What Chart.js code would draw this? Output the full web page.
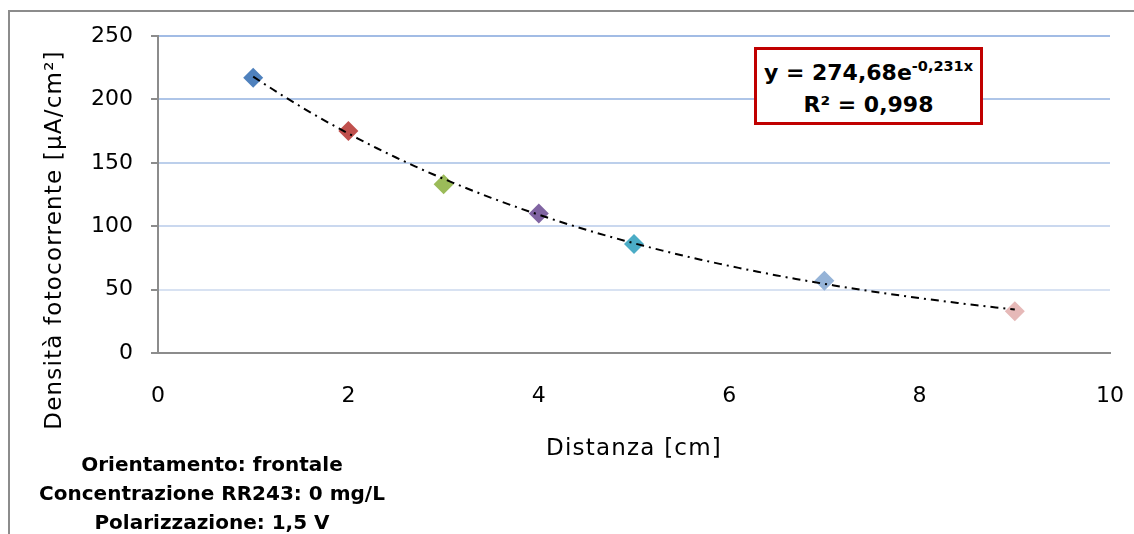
<!DOCTYPE html>
<html>
<head>
<meta charset="utf-8">
<script src="https://cdn.jsdelivr.net/npm/chart.js@4.4.1/dist/chart.umd.min.js"></script>
<style>
  html, body { margin: 0; padding: 0; background: #fff; overflow: hidden; }
  #wrap { position: relative; width: 1134px; height: 534px; overflow: hidden; }
  #grafico { position: absolute; left: 0; top: 0; }
  #eq { position: absolute; left: 754px; top: 47px; width: 223px; height: 65px; padding-top: 7px;
        border: 3px solid #c00000; background: #fff; color: #000; white-space: nowrap;
        font: bold 22px 'DejaVu Sans', sans-serif; text-align: center; line-height: 32px; }
  #eq sup { font-size: 14.5px; line-height: 0; vertical-align: 9px; }
  #note { position: absolute; left: 12px; top: 450px; width: 400px; color: #000;
          font: bold 20px 'DejaVu Sans', sans-serif; text-align: center; line-height: 29px; }
</style>
</head>
<body>
<div id="wrap">
  <canvas id="grafico" width="1134" height="534"></canvas>
  <div id="eq"></div>
  <div id="note"></div>
</div>
<script>
// misure: distanza della sorgente e densità di fotocorrente
const distanza = [1, 2, 3, 4, 5, 7, 9];
const densita = [217, 175, 133, 110, 86, 57, 33];
const coloriPunti = ['#4f81bd', '#c0504d', '#9bbb59', '#8064a2', '#4bacc6', '#95b3d7', '#e6b9b8'];

// linea di tendenza esponenziale y = A * e^(k x)
const fitA = 274.68;
const fitK = -0.231;
const fitR2 = 0.998;

const titoloX = 'Distanza [cm]';
const titoloY = 'Densità fotocorrente [µA/cm²]';
const note = ['Orientamento: frontale', 'Concentrazione RR243: 0 mg/L', 'Polarizzazione: 1,5 V'];

// griglia orizzontale: più satura in alto, più chiara in basso
const coloriGriglia = { 50: '#d8e2f2', 100: '#cad8ef', 150: '#bccfeb', 200: '#aec5e8', 250: '#a2bce5' };

const virgola = v => String(v).replace('.', ',');

const trend = [];
for (let x = distanza[0]; x <= distanza[distanza.length - 1] + 1e-9; x += 0.1) {
    trend.push({ x: x, y: fitA * Math.exp(fitK * x) });
}

document.getElementById('eq').innerHTML =
    '<div>y = ' + virgola(fitA) + 'e<sup>' + virgola(fitK) + 'x</sup></div>' +
    '<div>R² = ' + virgola(fitR2) + '</div>';
document.getElementById('note').innerHTML = note.map(r => '<div>' + r + '</div>').join('');

const fontBase = "'DejaVu Sans', sans-serif";

// cornice esterna (solo lati sinistro e superiore)
const cornice = {
    id: 'cornice',
    beforeDraw(chart) {
        const ctx = chart.ctx;
        ctx.save();
        ctx.strokeStyle = '#8c8c8c';
        ctx.lineWidth = 2;
        ctx.beginPath();
        ctx.moveTo(9, chart.height);
        ctx.lineTo(9, 11);
        ctx.lineTo(chart.width, 11);
        ctx.stroke();
        ctx.restore();
    }
};

// titoli degli assi, disegnati a mano per controllarne posizione e spaziatura
const titoliAssi = {
    id: 'titoliAssi',
    afterDraw(chart) {
        const ctx = chart.ctx;
        const area = chart.chartArea;
        ctx.save();
        ctx.fillStyle = '#000';
        ctx.textAlign = 'center';
        ctx.textBaseline = 'middle';
        ctx.font = '23px ' + fontBase;
        ctx.letterSpacing = '1.2px';
        ctx.fillText(titoloX, (area.left + area.right) / 2, 449);
        ctx.translate(55, 240);
        ctx.rotate(-Math.PI / 2);
        ctx.fillText(titoloY, 0, 0);
        ctx.restore();
    }
};

new Chart(document.getElementById('grafico').getContext('2d'), {
    type: 'scatter',
    data: {
        datasets: [
            {
                label: 'tendenza',
                data: trend,
                showLine: true,
                borderColor: '#000',
                borderWidth: 2,
                borderDash: [8, 5, 2, 5],
                pointRadius: 0,
                fill: false,
                order: 0
            },
            {
                label: 'misure',
                data: distanza.map((x, i) => ({ x: x, y: densita[i] })),
                pointStyle: 'rectRot',
                pointRadius: 10,
                pointBackgroundColor: coloriPunti,
                pointBorderColor: coloriPunti,
                pointBorderWidth: 0,
                order: 1
            }
        ]
    },
    options: {
        responsive: false,
        animation: false,
        layout: { padding: { left: 0, top: 36, right: 24, bottom: 0 } },
        plugins: { legend: { display: false }, tooltip: { enabled: false } },
        scales: {
            x: {
                type: 'linear',
                min: 0,
                max: 10,
                afterFit: s => { s.height = 181; s.paddingRight = 0; },
                ticks: { stepSize: 2, padding: 30, color: '#000', font: { family: fontBase, size: 22 } },
                grid: { display: false, drawTicks: false },
                border: { color: '#8c8c8c', width: 2 }
            },
            y: {
                type: 'linear',
                min: 0,
                max: 250,
                afterFit: s => { s.width = 158; },
                ticks: { stepSize: 50, padding: 18, color: '#000', font: { family: fontBase, size: 22 } },
                grid: {
                    color: c => coloriGriglia[c.tick.value] || '#b9cde8',
                    lineWidth: 2,
                    tickLength: 7,
                    tickColor: '#8c8c8c',
                    tickWidth: 2
                },
                border: { color: '#8c8c8c', width: 2 }
            }
        }
    },
    plugins: [cornice, titoliAssi]
});
</script>
</body>
</html>
